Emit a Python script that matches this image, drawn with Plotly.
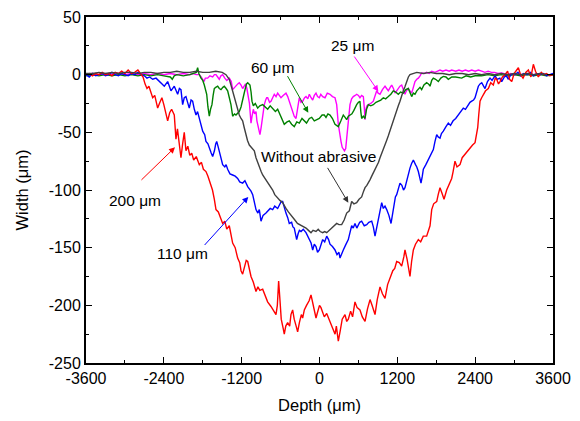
import plotly.graph_objects as go

# ---- data (depth in um, width in um) ----
red_200um = [
    (-3600, 0), (-3550, 1), (-3500, -1), (-3450, 1), (-3400, 0), (-3350, 2), (-3300, 0), (-3250, 1),
    (-3200, -1), (-3150, 2), (-3100, 1), (-3050, 3), (-3000, 1), (-2950, 4), (-2900, 1), (-2850, 2),
    (-2800, 4), (-2750, 0), (-2720, -2), (-2690, -8), (-2660, -12), (-2630, -10), (-2600, -16),
    (-2572, -20), (-2540, -18), (-2510, -27), (-2495, -29), (-2460, -24), (-2430, -20), (-2400, -26),
    (-2370, -34), (-2341, -40), (-2310, -33), (-2280, -30), (-2239, -35), (-2213, -56), (-2190, -47),
    (-2160, -62), (-2136, -72), (-2110, -60), (-2085, -50), (-2059, -66), (-2030, -62), (-2000, -70),
    (-1970, -68), (-1940, -74), (-1900, -71), (-1853, -78), (-1820, -76), (-1790, -82), (-1750, -84),
    (-1720, -88), (-1700, -92), (-1673, -95), (-1650, -100), (-1622, -108), (-1596, -117),
    (-1560, -119), (-1530, -124), (-1493, -129), (-1460, -127), (-1430, -134), (-1391, -131),
    (-1360, -140), (-1339, -146), (-1300, -150), (-1262, -159), (-1230, -163), (-1210, -170),
    (-1185, -173), (-1160, -168), (-1130, -161), (-1107, -162), (-1080, -170), (-1056, -175),
    (-1020, -180), (-979, -188), (-950, -184), (-920, -187), (-876, -186), (-840, -192), (-800, -197),
    (-748, -201), (-710, -204), (-671, -208), (-650, -200), (-630, -179), (-610, -195), (-590, -212),
    (-560, -220), (-543, -225), (-520, -218), (-491, -215), (-460, -218), (-440, -208), (-414, -204),
    (-390, -212), (-360, -218), (-337, -223), (-310, -215), (-280, -208), (-260, -211), (-234, -204),
    (-200, -200), (-160, -196), (-131, -191), (-100, -200), (-80, -205), (-54, -211), (-30, -206),
    (0, -200), (23, -202), (50, -206), (74, -210), (111, -207), (150, -212), (180, -216), (213, -220),
    (240, -225), (260, -218), (290, -231), (320, -222), (350, -212), (393, -208), (420, -214),
    (444, -212), (480, -205), (510, -210), (547, -197), (580, -202), (624, -204), (660, -210),
    (702, -214), (740, -203), (779, -195), (810, -200), (856, -208), (890, -195), (933, -184),
    (970, -190), (1010, -194), (1050, -182), (1087, -176), (1130, -170), (1160, -168), (1190, -162),
    (1230, -163), (1267, -166), (1300, -158), (1318, -152), (1350, -160), (1380, -172), (1395, -175),
    (1420, -162), (1447, -152), (1480, -147), (1524, -143), (1560, -145), (1600, -140), (1652, -140),
    (1680, -136), (1704, -131), (1730, -117), (1760, -112), (1781, -111), (1807, -110), (1830, -104),
    (1858, -98), (1890, -103), (1920, -108), (1961, -100), (2000, -94), (2038, -90), (2060, -84),
    (2089, -75), (2120, -80), (2166, -78), (2200, -72), (2244, -69), (2280, -66), (2321, -64),
    (2360, -61), (2398, -59), (2420, -52), (2439, -46), (2455, -35), (2475, -23), (2500, -20),
    (2526, -17), (2560, -14), (2603, -12), (2640, -7), (2680, -9), (2710, -3), (2732, -4), (2760, -8),
    (2783, -6), (2820, -2), (2860, 0), (2900, 3), (2930, -4), (2964, -6), (3000, 1), (3030, 3),
    (3066, 6), (3100, 0), (3138, -3), (3180, 2), (3220, 4), (3260, -2), (3297, 9), (3330, 3),
    (3374, -2), (3420, 2), (3460, 0), (3500, 1), (3550, -1), (3600, 0),
]

blue_110um = [
    (-3600, 0), (-3550, -2), (-3500, 1), (-3450, -1), (-3400, 0), (-3350, 1), (-3300, -1), (-3250, 0),
    (-3200, 2), (-3150, 0), (-3100, -1), (-3050, 1), (-3000, 0), (-2950, -1), (-2900, 1), (-2850, 0),
    (-2800, 2), (-2750, 0), (-2700, -1), (-2660, -3), (-2620, -2), (-2572, -4), (-2520, -3),
    (-2470, -6), (-2430, -8), (-2393, -10), (-2341, -6), (-2310, -11), (-2290, -14), (-2239, -10),
    (-2210, -15), (-2187, -17), (-2160, -12), (-2136, -13), (-2110, -26), (-2085, -20), (-2059, -19),
    (-2030, -25), (-2008, -29), (-1980, -22), (-1956, -23), (-1930, -30), (-1904, -35), (-1880, -32),
    (-1853, -38), (-1830, -42), (-1801, -49), (-1770, -52), (-1750, -58), (-1720, -60), (-1699, -64),
    (-1670, -68), (-1647, -71), (-1620, -66), (-1600, -60), (-1585, -58), (-1565, -62), (-1545, -66),
    (-1520, -72), (-1493, -78), (-1460, -80), (-1440, -78), (-1416, -82), (-1380, -86), (-1339, -87),
    (-1300, -88), (-1262, -90), (-1230, -93), (-1185, -94), (-1150, -92), (-1107, -97), (-1080, -99),
    (-1056, -101), (-1030, -104), (-1005, -110), (-979, -117), (-950, -120), (-928, -117),
    (-902, -127), (-870, -122), (-825, -120), (-790, -118), (-760, -116), (-722, -117), (-690, -114),
    (-645, -116), (-610, -112), (-590, -110), (-568, -110), (-540, -116), (-517, -120), (-490, -124),
    (-466, -129), (-430, -128), (-410, -132), (-389, -133), (-352, -143), (-330, -138), (-310, -135),
    (-285, -136), (-250, -134), (-208, -137), (-180, -140), (-157, -142), (-130, -146), (-105, -152),
    (-80, -147), (-54, -149), (-30, -154), (-3, -152), (20, -147), (49, -143), (80, -145), (111, -140),
    (140, -143), (162, -147), (200, -149), (239, -152), (270, -156), (300, -154), (316, -159),
    (340, -155), (367, -152), (400, -148), (444, -143), (470, -137), (496, -131), (520, -133),
    (547, -129), (575, -133), (598, -131), (620, -128), (650, -127), (690, -131), (728, -130),
    (760, -128), (805, -127), (830, -132), (856, -140), (880, -133), (907, -126), (933, -116),
    (959, -111), (984, -116), (1010, -114), (1036, -117), (1070, -122), (1103, -129), (1130, -118),
    (1154, -108), (1170, -106), (1190, -104), (1215, -99), (1241, -94), (1270, -96), (1295, -100),
    (1318, -98), (1350, -90), (1395, -81), (1420, -77), (1447, -74), (1480, -78), (1500, -80),
    (1524, -84), (1545, -90), (1565, -94), (1585, -88), (1601, -82), (1640, -78), (1678, -74),
    (1710, -70), (1755, -65), (1780, -58), (1807, -52), (1830, -54), (1858, -55), (1880, -51),
    (1909, -49), (1950, -45), (1986, -42), (2020, -44), (2060, -40), (2100, -38), (2140, -35),
    (2180, -32), (2217, -29), (2250, -30), (2290, -26), (2320, -24), (2347, -23), (2375, -22),
    (2398, -20), (2420, -15), (2449, -10), (2475, -8), (2501, -7), (2530, -10), (2552, -12),
    (2590, -6), (2629, -3), (2660, -5), (2706, -1), (2740, -4), (2780, -3), (2809, -6), (2850, -2),
    (2880, -1), (2912, -4), (2950, 0), (3015, 0), (3060, 2), (3100, -1), (3150, 1), (3200, 0),
    (3250, 2), (3300, -1), (3350, 1), (3400, 0), (3450, 1), (3500, -1), (3550, 0), (3600, 1),
]

gray_without = [
    (-3600, 1), (-3500, 1), (-3400, 2), (-3300, 1), (-3200, 2), (-3100, 1), (-3000, 2), (-2900, 2),
    (-2800, 1), (-2700, 2), (-2600, 2), (-2500, 1), (-2400, 2), (-2300, 2), (-2200, 3), (-2100, 2),
    (-2000, 2), (-1900, 3), (-1800, 2), (-1700, 2), (-1600, 3), (-1500, 2), (-1442, 0), (-1415, -2),
    (-1391, -4), (-1365, -9), (-1339, -14), (-1310, -20), (-1288, -26), (-1260, -31), (-1237, -35),
    (-1210, -38), (-1185, -40), (-1160, -46), (-1134, -52), (-1110, -57), (-1082, -61), (-1040, -64),
    (-1005, -66), (-979, -72), (-950, -77), (-928, -81), (-900, -84), (-876, -87), (-840, -90),
    (-799, -93), (-760, -97), (-722, -100), (-690, -104), (-645, -107), (-610, -109), (-568, -111),
    (-540, -114), (-517, -116), (-480, -119), (-450, -121), (-414, -123), (-380, -126), (-340, -129),
    (-311, -130), (-260, -131), (-208, -133), (-170, -135), (-131, -137), (-100, -135), (-54, -136),
    (-20, -134), (10, -136), (49, -137), (80, -136), (111, -137), (150, -135), (188, -133),
    (230, -131), (265, -129), (300, -130), (342, -130), (380, -126), (419, -120), (460, -118),
    (496, -110), (530, -112), (573, -111), (610, -108), (650, -106), (680, -101), (702, -98),
    (730, -96), (753, -94), (780, -91), (805, -88), (840, -84), (882, -80), (910, -76), (933, -72),
    (970, -67), (1010, -62), (1035, -57), (1061, -53), (1100, -46), (1138, -40), (1165, -36),
    (1190, -32), (1215, -27), (1241, -23), (1265, -18), (1292, -14), (1320, -10), (1344, -6),
    (1370, -2), (1395, 0), (1447, 1), (1500, 2), (1600, 1), (1700, 2), (1800, 1), (1900, 1),
    (2000, 0), (2100, 1), (2200, 1), (2300, 0), (2400, 1), (2500, 0), (2600, 1), (2700, 0),
    (2800, 1), (2900, 0), (3000, 1), (3100, 0), (3200, 1), (3300, 0), (3400, 1), (3500, 0), (3600, 0),
]

green_60um = [
    (-3600, -1), (-3500, 0), (-3400, -1), (-3300, 0), (-3200, -1), (-3100, 0), (-3000, -1), (-2900, 0),
    (-2800, -1), (-2700, 0), (-2600, -1), (-2500, 0), (-2400, -1), (-2300, -2), (-2270, -4),
    (-2240, -1), (-2200, 0), (-2100, -1), (-2000, 0), (-1950, 1), (-1900, 2), (-1879, 6), (-1860, 1),
    (-1827, -3), (-1800, -5), (-1776, -9), (-1760, -12), (-1739, -17), (-1720, -28), (-1699, -36),
    (-1680, -30), (-1658, -26), (-1640, -18), (-1622, -12), (-1600, -11), (-1570, -10), (-1545, -12),
    (-1519, -13), (-1490, -11), (-1468, -10), (-1440, -12), (-1416, -14), (-1390, -20), (-1365, -26),
    (-1339, -36), (-1310, -34), (-1288, -35), (-1260, -33), (-1237, -32), (-1210, -28), (-1185, -23),
    (-1165, -17), (-1144, -12), (-1125, -8), (-1107, -7), (-1090, -8), (-1072, -9), (-1055, -15),
    (-1041, -23), (-1020, -27), (-990, -25), (-953, -29), (-920, -27), (-876, -26), (-840, -28),
    (-799, -30), (-760, -27), (-722, -29), (-680, -32), (-645, -30), (-620, -33), (-594, -36),
    (-570, -40), (-543, -43), (-500, -41), (-466, -40), (-430, -43), (-389, -45), (-350, -41),
    (-311, -42), (-270, -38), (-234, -40), (-200, -42), (-157, -38), (-120, -37), (-80, -40),
    (-40, -39), (-3, -38), (40, -35), (74, -35), (100, -37), (130, -34), (162, -35), (200, -38),
    (239, -43), (265, -44), (290, -45), (330, -40), (367, -35), (395, -37), (419, -39), (445, -36),
    (470, -35), (500, -34), (530, -31), (550, -28), (573, -26), (600, -24), (624, -23), (637, -32),
    (650, -38), (675, -36), (702, -38), (725, -30), (753, -26), (790, -27), (830, -26), (870, -24),
    (907, -23), (945, -22), (984, -20), (1020, -21), (1061, -19), (1100, -17), (1138, -14),
    (1175, -15), (1215, -17), (1250, -15), (1292, -16), (1330, -13), (1369, -12), (1395, -15),
    (1421, -19), (1447, -16), (1472, -17), (1500, -14), (1524, -12), (1550, -11), (1575, -13),
    (1610, -9), (1652, -7), (1680, -8), (1704, -10), (1730, -5), (1755, -3), (1790, -4), (1832, -6),
    (1870, -3), (1909, -1.5), (1950, -2), (1986, -4), (2040, -2), (2100, -2), (2192, -3), (2260, -1),
    (2330, -2), (2400, -1), (2500, -1), (2600, 0), (2700, -1), (2800, 0), (2900, -1), (3000, 0),
    (3100, -1), (3200, 0), (3300, -1), (3400, 0), (3500, -1), (3600, 0),
]

magenta_25um = [
    (-3600, 0), (-3500, 1), (-3400, 0), (-3300, 1), (-3200, 0), (-3100, 1), (-3000, 0), (-2900, 1),
    (-2800, 0), (-2700, 1), (-2600, 0), (-2500, 1), (-2400, 0), (-2300, 1), (-2200, 0), (-2100, 1),
    (-2000, 0), (-1950, 1), (-1900, 0), (-1853, 0), (-1825, -2), (-1801, -4), (-1780, -6),
    (-1760, -3), (-1724, -3), (-1690, -1), (-1647, -2), (-1620, 0), (-1596, 0), (-1570, -2),
    (-1545, -4), (-1520, -1), (-1493, 0), (-1460, -3), (-1430, -5), (-1391, -3), (-1360, -6),
    (-1339, -13), (-1310, -11), (-1288, -10), (-1260, -8), (-1237, -7), (-1210, -9), (-1185, -12),
    (-1160, -10), (-1140, -8), (-1120, -12), (-1098, -19), (-1080, -25), (-1066, -35), (-1056, -42),
    (-1040, -36), (-1020, -30), (-1000, -34), (-979, -32), (-965, -40), (-953, -43), (-935, -48),
    (-918, -52), (-900, -46), (-887, -40), (-870, -32), (-851, -26), (-830, -22), (-814, -20),
    (-799, -20), (-770, -24), (-748, -23), (-720, -19), (-697, -17), (-670, -19), (-645, -16),
    (-620, -18), (-594, -20), (-560, -18), (-517, -16), (-490, -19), (-466, -23), (-440, -28),
    (-414, -32), (-390, -36), (-362, -38), (-340, -30), (-311, -20), (-285, -24), (-259, -23),
    (-230, -20), (-208, -19), (-180, -21), (-157, -17), (-130, -20), (-105, -22), (-80, -18),
    (-54, -16), (-30, -19), (-3, -20), (20, -17), (49, -19), (85, -20), (120, -16), (162, -17),
    (200, -19), (239, -20), (265, -26), (290, -43), (310, -52), (332, -58), (350, -63), (367, -65),
    (385, -66), (404, -64), (420, -55), (444, -43), (458, -33), (470, -26), (495, -21), (521, -19),
    (550, -18), (573, -17), (600, -18), (624, -20), (650, -18), (676, -19), (690, -28), (702, -39),
    (715, -30), (730, -27), (753, -26), (790, -25), (830, -23), (855, -18), (882, -14), (905, -16),
    (933, -17), (970, -13), (1010, -10), (1035, -12), (1061, -14), (1090, -11), (1113, -9),
    (1140, -12), (1164, -16), (1190, -14), (1215, -12), (1240, -10), (1267, -9), (1290, -13),
    (1318, -17), (1340, -14), (1369, -12), (1395, -14), (1421, -16), (1447, -11), (1472, -6),
    (1500, -4), (1524, -3), (1550, -1), (1575, 1.5), (1620, 1), (1650, 2), (1690, 1), (1730, 3),
    (1780, 2), (1820, 3), (1858, 4), (1900, 3), (1950, 4), (2000, 3), (2038, 4), (2100, 3),
    (2150, 4), (2200, 3), (2250, 4), (2300, 3), (2347, 4), (2400, 3), (2450, 4), (2501, 3),
    (2550, 2), (2600, 3), (2650, 2), (2700, 2), (2750, 1), (2809, 1.5), (2860, 1), (2900, 0),
    (2950, 1), (3000, 0), (3100, 0), (3200, 1), (3300, 0), (3400, 1), (3500, 0), (3600, 0),
]

x_ticks = [-3600, -2400, -1200, 0, 1200, 2400, 3600]
y_ticks = [50, 0, -50, -100, -150, -200, -250]

# label text positions and arrow (tail -> head) in data coordinates
labels = [
    # text, text_x, text_y, tail_x, tail_y, head_x, head_y, color
    ("60 \u03bcm", -732, 6, -506, 0, -173, -33, "#008000"),
    ("25 \u03bcm", 501, 25, 521, 17, 907, -14.5, "#FF00FF"),
    ("Without abrasive", -8, -71, 111, -79.5, 444, -111, "#333333"),
    ("200 \u03bcm", -2845, -109, -2768, -92.5, -2228, -63, "#FF0000"),
    ("110 \u03bcm", -2105, -155, -1792, -149, -1098, -106, "#0000FF"),
]

series = [
    ("25 \u03bcm", magenta_25um, "#FF00FF"),
    ("60 \u03bcm", green_60um, "#008000"),
    ("110 \u03bcm", blue_110um, "#0000FF"),
    ("200 \u03bcm", red_200um, "#FF0000"),
    ("Without abrasive", gray_without, "#404040"),
]

FONT = "Liberation Sans, Arial, sans-serif"

fig = go.Figure()
for name, pts, color in series:
    xs = [p[0] for p in pts]
    ys = [p[1] for p in pts]
    fig.add_trace(go.Scatter(x=xs, y=ys, mode="lines", name=name,
                             line=dict(color=color, width=1.4), showlegend=False))

for text, tx, ty, ax_, ay_, hx, hy, color in labels:
    fig.add_annotation(x=tx, y=ty, text=text, showarrow=False,
                       font=dict(family=FONT, size=15.5, color="black"))
    fig.add_annotation(x=hx, y=hy, ax=ax_, ay=ay_, axref="x", ayref="y",
                       text="", showarrow=True, arrowhead=2, arrowsize=1.2,
                       arrowwidth=1, arrowcolor=color)

axis_common = dict(
    showline=True, linecolor="black", linewidth=2, mirror="allticks",
    ticks="inside", ticklen=6, tickwidth=1, tickcolor="black",
    showgrid=False, zeroline=False, automargin=False,
    tickfont=dict(family=FONT, size=16, color="black"),
)

fig.update_xaxes(range=[-3600, 3600], tickvals=x_ticks,
                 ticktext=[str(v) for v in x_ticks],
                 minor=dict(dtick=600, tick0=0, ticks="inside", ticklen=3, tickcolor="black"),
                 title=dict(text="Depth (\u03bcm)", font=dict(family=FONT, size=16.5, color="black"), standoff=13),
                 **axis_common)
fig.update_yaxes(range=[-250, 50], tickvals=y_ticks,
                 ticktext=[str(v) for v in y_ticks],
                 minor=dict(dtick=25, tick0=0, ticks="inside", ticklen=3, tickcolor="black"),
                 title=dict(text="Width (\u03bcm)", font=dict(family=FONT, size=16.5, color="black"), standoff=16),
                 **axis_common)

fig.update_layout(width=580, height=421, margin=dict(l=86, r=27, t=17, b=58),
                  paper_bgcolor="white", plot_bgcolor="white",
                  font=dict(family=FONT, size=16, color="black"))

fig.write_html("out.html")
